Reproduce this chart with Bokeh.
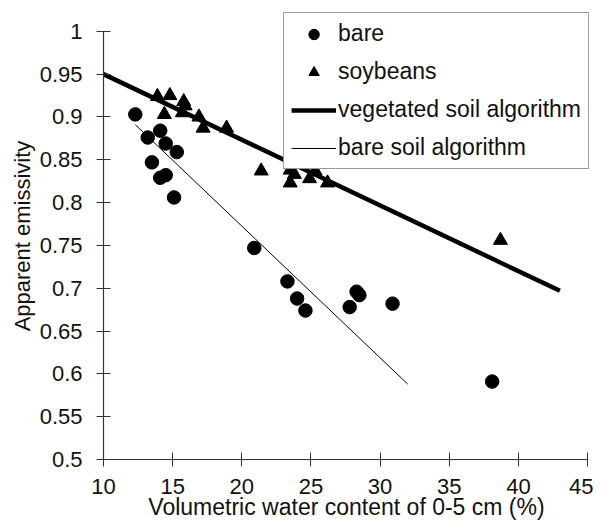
from bokeh.plotting import figure
from bokeh.models import Legend, LegendItem, FixedTicker, Range1d
from bokeh.embed import file_html
from bokeh.resources import INLINE

# bare soil observations
bare_x = [12.3, 13.2, 14.1, 13.5, 14.5, 15.3, 14.1, 14.5, 15.1, 20.9,
          23.3, 24.0, 24.6, 27.8, 28.3, 28.5, 30.9, 38.1]
bare_y = [0.903, 0.876, 0.884, 0.847, 0.869, 0.859, 0.829, 0.832, 0.806, 0.747,
          0.708, 0.688, 0.674, 0.678, 0.696, 0.692, 0.682, 0.591]

# soybean observations
soy_x = [13.9, 14.8, 14.4, 15.8, 15.9, 15.7, 16.9, 17.2, 18.9, 21.4,
         23.5, 23.5, 23.8, 24.9, 25.3, 26.2, 38.7]
soy_y = [0.924, 0.925, 0.903, 0.918, 0.913, 0.905, 0.900, 0.887, 0.887, 0.837,
         0.838, 0.823, 0.833, 0.828, 0.837, 0.823, 0.756]

# algorithm lines
veg_x = [10.0, 43.0]
veg_y = [0.950, 0.697]
bsa_x = [12.3, 32.0]
bsa_y = [0.891, 0.588]

x_ticks = [10, 15, 20, 25, 30, 35, 40, 45]
y_ticks = [0.5, 0.55, 0.6, 0.65, 0.7, 0.75, 0.8, 0.85, 0.9, 0.95, 1.0]

FONT = "Liberation Sans"

p = figure(width=593, height=522, output_backend="svg", toolbar_location=None,
           x_range=Range1d(10, 45.14), y_range=Range1d(0.5, 1.022),
           min_border_left=103, min_border_right=4, min_border_top=12, min_border_bottom=60)
p.outline_line_color = None
p.xgrid.visible = False
p.ygrid.visible = False
p.background_fill_color = "white"

r_veg = p.line(veg_x, veg_y, line_color="black", line_width=4.5)
r_bsa = p.line(bsa_x, bsa_y, line_color="black", line_width=1)
r_bare = p.scatter(bare_x, bare_y, marker="circle", size=13.5, fill_color="black", line_color="black")
r_soy = p.scatter(soy_x, soy_y, marker="triangle", size=14, fill_color="black", line_color="black")

for ax, ticks, bounds in ((p.xaxis[0], x_ticks, (10, 45)), (p.yaxis[0], y_ticks, (0.5, 1.0))):
    ax.ticker = FixedTicker(ticks=ticks)
    ax.bounds = bounds
    ax.axis_line_color = "#333333"
    ax.axis_line_width = 1.2
    ax.major_tick_line_color = "#333333"
    ax.major_tick_in = 7
    ax.major_tick_out = 7
    ax.minor_tick_line_color = None
    ax.major_label_text_font = FONT
    ax.major_label_text_font_size = "22px"
    ax.major_label_text_color = "#111111"
    ax.axis_label_text_font = FONT
    ax.axis_label_text_font_style = "normal"
    ax.axis_label_text_color = "#111111"

p.xaxis[0].major_label_overrides = {t: str(t) for t in x_ticks}
p.yaxis[0].major_label_overrides = {t: ("1" if t == 1.0 else f"{t:g}") for t in y_ticks}
p.xaxis.axis_label = "Volumetric water content of 0-5 cm (%)"
p.yaxis.axis_label = "Apparent emissivity"
p.xaxis.axis_label_text_font_size = "23px"
p.yaxis.axis_label_text_font_size = "22px"
p.xaxis.major_label_standoff = 12
p.xaxis.axis_label_standoff = -3
p.yaxis.major_label_standoff = 14
p.yaxis.axis_label_standoff = 2

legend = Legend(items=[
    LegendItem(label="bare", renderers=[r_bare]),
    LegendItem(label="soybeans", renderers=[r_soy]),
    LegendItem(label="vegetated soil algorithm", renderers=[r_veg]),
    LegendItem(label="bare soil algorithm", renderers=[r_bsa]),
], location="top_right")
legend.margin = 0
legend.padding = 7
legend.spacing = 11
legend.glyph_width = 45
legend.glyph_height = 26
legend.label_height = 26
legend.label_standoff = 2
legend.label_text_font = FONT
legend.label_text_font_size = "23px"
legend.label_text_color = "#111111"
legend.border_line_color = "#333333"
legend.border_line_width = 1
legend.background_fill_alpha = 1.0
p.add_layout(legend)

open("out.html", "w").write(file_html(p, INLINE))
